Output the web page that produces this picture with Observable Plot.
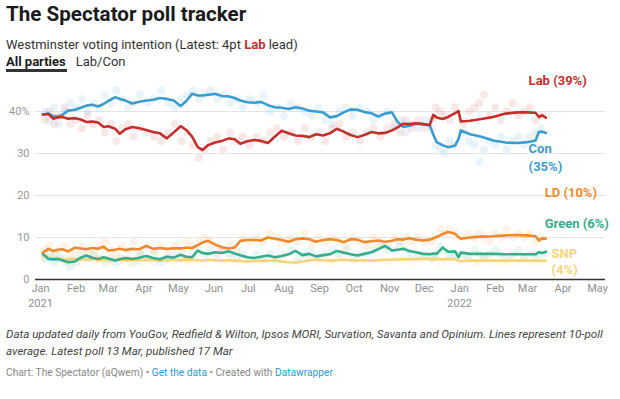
<!DOCTYPE html>
<html><head><meta charset="utf-8">
<script src="https://cdn.jsdelivr.net/npm/d3@7"></script>
<script src="https://cdn.jsdelivr.net/npm/@observablehq/plot@0.6"></script>
<style>
body{margin:0;background:#fff;font-family:Roboto,"Noto Sans",sans-serif;width:620px;height:399px;overflow:hidden;position:relative;color:#222}
.abs{position:absolute;white-space:nowrap}
#title{left:6px;top:2px;font-size:20.6px;line-height:24px;font-weight:700;color:#1a1a1a}
#sub{left:6px;top:36px;font-size:13px;line-height:18px;color:#333}
#sub b{color:#c3302b}
#tabs{left:6px;top:54px;font-size:13px;line-height:16px;color:#333}
#tabs b{color:#1a1a1a;margin-right:10px}
#uline{left:6px;top:69px;width:61px;height:3px;background:#333}
#chart{left:0;top:72px}
.note{left:6px;font-size:11.6px;line-height:17px;font-style:italic;color:#444}
#foot{left:6px;top:365px;font-size:10.2px;line-height:16px;color:#888}
#foot span.l{color:#2a9bd0}
</style></head>
<body>
<div class="abs" id="title">The Spectator poll tracker</div>
<div class="abs" id="sub">Westminster voting intention (Latest: 4pt <b>Lab</b> lead)</div>
<div class="abs" id="tabs"><b>All parties</b>Lab/Con</div>
<div class="abs" id="uline"></div>
<div class="abs" id="chart"></div>
<div class="abs note" style="top:326px">Data updated daily from YouGov, Redfield &amp; Wilton, Ipsos MORI, Survation, Savanta and Opinium. Lines represent 10-poll</div>
<div class="abs note" style="top:343px">average. Latest poll 13 Mar, published 17 Mar</div>
<div class="abs" id="foot">Chart: The Spectator (aQwem) • <span class="l">Get the data</span> • Created with <span class="l">Datawrapper</span></div>
<script>
// ---- 10-poll average lines ----
const lineDates = ["2021-01-03","2021-01-08","2021-01-12","2021-01-16","2021-01-20","2021-01-25","2021-01-31","2021-02-05","2021-02-10","2021-02-15",
"2021-02-20","2021-02-25","2021-03-01","2021-03-07","2021-03-11","2021-03-16","2021-03-22","2021-03-28","2021-04-03","2021-04-09",
"2021-04-15","2021-04-21","2021-04-27","2021-05-03","2021-05-08","2021-05-13","2021-05-18","2021-05-22","2021-05-27","2021-06-02",
"2021-06-08","2021-06-14","2021-06-19","2021-06-24","2021-06-30","2021-07-06","2021-07-12","2021-07-18","2021-07-24","2021-07-30",
"2021-08-05","2021-08-11","2021-08-17","2021-08-23","2021-08-29","2021-09-04","2021-09-10","2021-09-16","2021-09-22","2021-09-28",
"2021-10-04","2021-10-10","2021-10-16","2021-10-22","2021-10-28","2021-11-03","2021-11-08","2021-11-13","2021-11-18","2021-11-24",
"2021-11-30","2021-12-06","2021-12-09","2021-12-12","2021-12-17","2021-12-22","2021-12-28","2021-12-31","2022-01-02","2022-01-10",
"2022-01-20","2022-01-30","2022-02-10","2022-02-20","2022-03-01","2022-03-08","2022-03-11","2022-03-14","2022-03-17"];
const conLine = [39.3,39.5,38.9,38.8,39.2,40.2,40.4,40.9,41.4,41.6,41.2,41.8,42.5,43.4,43.0,42.6,41.9,42.3,42.6,42.8,
43.2,43.0,42.6,41.3,42.5,44.2,43.8,43.8,44.0,44.2,43.7,43.6,43.2,42.6,42.2,42.1,42.3,41.5,41.0,40.9,
40.6,41.0,40.7,40.2,40.0,39.8,38.6,38.9,39.8,40.5,40.4,39.9,39.6,38.8,39.5,39.8,37.5,36.3,36.6,37.1,
37.0,36.7,34.5,32.7,32.0,31.5,31.9,33.5,35.5,34.6,34.0,33.1,32.6,32.5,32.7,33.1,35.1,35.2,34.9];
const labLine = [39.3,39.4,38.3,38.6,38.7,38.3,38.4,38.1,37.5,37.6,37.4,36.3,36.5,35.9,34.7,35.8,36.3,36.0,35.6,35.1,
34.8,33.6,35.0,36.5,35.6,34.0,31.5,30.8,32.0,32.6,33.0,33.6,33.4,32.3,32.9,33.2,33.0,32.5,34.0,35.4,
34.8,34.3,34.2,33.9,34.6,34.3,34.8,35.9,35.2,34.4,33.9,34.4,35.1,34.8,34.9,35.5,36.2,37.1,37.0,37.2,
37.0,36.8,39.2,38.6,38.2,38.7,39.6,40.1,37.6,37.8,38.2,38.7,39.5,39.8,39.8,39.7,38.7,39.1,38.5];
const ldLine = [6.4,7.3,6.8,7.1,7.2,6.7,7.6,7.4,7.2,7.5,7.3,7.8,6.9,7.1,7.3,7.0,7.3,7.2,8.0,7.3,
7.5,7.3,7.4,7.4,7.6,7.5,8.2,8.8,9.2,8.3,7.7,7.4,7.6,9.2,9.4,9.4,9.3,10.0,9.7,9.4,
9.0,9.6,9.8,9.6,9.0,9.4,9.6,9.4,8.9,9.6,9.5,8.9,9.1,9.3,9.0,9.2,9.6,9.5,9.8,9.5,
9.3,9.5,9.8,10.1,10.8,11.3,10.9,10.1,9.7,10.0,10.2,10.3,10.5,10.6,10.5,10.3,9.3,9.8,9.7];
const greenLine = [6.1,4.9,4.8,4.9,4.6,4.1,4.3,5.2,5.7,5.2,4.9,5.3,5.0,4.5,4.8,5.1,4.9,5.2,5.6,5.1,
4.8,5.4,5.2,5.9,5.4,5.3,6.9,6.3,6.1,6.5,6.3,6.7,6.2,5.8,5.3,5.1,5.4,5.7,5.3,5.6,
6.0,6.8,5.8,6.1,5.5,5.8,6.0,6.8,6.4,6.0,5.7,6.1,6.5,7.2,8.0,6.9,7.1,7.3,6.8,6.5,
6.1,6.0,6.2,6.1,7.6,6.6,6.7,5.3,6.4,6.1,6.1,6.1,6.0,6.0,6.0,6.0,6.5,6.3,6.6];
const snpLine = [5.6,5.3,5.1,5.0,4.9,4.8,4.9,4.8,4.7,4.9,4.8,4.7,4.6,4.7,4.8,4.6,4.7,4.6,4.7,4.6,
4.5,4.6,4.7,4.6,4.8,4.7,4.6,4.5,4.7,4.6,4.5,4.6,4.5,4.4,4.3,4.4,4.5,4.4,4.6,4.3,
4.1,4.0,4.3,4.6,4.7,4.6,4.5,4.6,4.7,4.6,4.5,4.6,4.5,4.6,4.7,4.7,4.8,4.8,4.9,4.8,
4.9,4.9,4.8,4.9,4.8,4.9,4.8,4.5,4.4,4.5,4.5,4.5,4.5,4.5,4.5,4.5,4.5,4.4,4.5];

// ---- individual polls ----
const pollDates = ["2021-01-05","2021-01-09","2021-01-13","2021-01-17","2021-01-22","2021-01-27","2021-02-01","2021-02-06","2021-02-11","2021-02-16",
"2021-02-21","2021-02-26","2021-03-03","2021-03-08","2021-03-13","2021-03-18","2021-03-23","2021-03-29","2021-04-04","2021-04-10",
"2021-04-16","2021-04-22","2021-04-28","2021-05-04","2021-05-09","2021-05-14","2021-05-19","2021-05-24","2021-05-29","2021-06-04",
"2021-06-09","2021-06-15","2021-06-21","2021-06-26","2021-07-02","2021-07-08","2021-07-14","2021-07-20","2021-07-26","2021-08-01",
"2021-08-07","2021-08-13","2021-08-19","2021-08-25","2021-08-31","2021-09-06","2021-09-12","2021-09-18","2021-09-24","2021-09-30",
"2021-10-06","2021-10-12","2021-10-18","2021-10-24","2021-10-30","2021-11-05","2021-11-10","2021-11-15","2021-11-20","2021-11-26",
"2021-12-02","2021-12-08","2021-12-11","2021-12-15","2021-12-19","2021-12-23","2021-12-28","2022-01-04","2022-01-09","2022-01-14",
"2022-01-18","2022-01-22","2022-01-27","2022-02-01","2022-02-06","2022-02-11","2022-02-16","2022-02-21","2022-02-26","2022-03-03",
"2022-03-08","2022-03-13"];
const conPolls = [40,38,41,37,40,42,41,43,40,42,41,44,42,45,43,41,42,44,42,43,
45,42,41,43,44,45,43,44,45,43,44,42,43,41,43,42,44,40,41,39,
42,41,40,39,41,38,37,40,41,39,41,40,38,39,40,36,38,35,37,36,
38,36,32,31,30,33,32,35,33,32,28,31,33,32,34,31,33,34,32,34,
35,36];
const labPolls = [38,40,37,39,41,37,38,36,39,37,38,35,37,33,36,37,34,36,35,34,
33,35,37,33,35,32,29,31,33,34,31,35,33,34,32,34,33,35,36,34,
35,33,36,34,35,33,36,37,34,35,33,35,36,34,36,37,35,38,36,38,
36,38,41,40,39,38,41,37,40,41,42,44,39,41,38,40,42,39,40,41,
38,39];
const ldPolls = [7,8,6,7,8,6,7,8,7,6,8,9,7,6,8,7,9,6,8,7,
8,6,8,7,9,8,9,10,9,8,7,8,7,10,9,10,9,11,10,9,
10,9,11,8,10,9,10,9,8,10,9,8,10,9,8,10,9,10,9,10,
9,9,10,12,11,12,11,10,11,10,11,10,9,11,10,12,10,11,10,11,
9,10];
const greenPolls = [5,6,4,5,4,3,4,6,5,6,5,4,5,4,5,5,4,6,5,6,
4,5,6,5,5,6,7,6,7,6,7,6,5,6,5,6,5,6,5,6,
7,5,6,6,5,6,7,6,7,5,6,6,7,8,7,7,8,7,6,6,
6,5,6,8,7,6,6,6,5,7,6,5,6,7,6,5,6,7,5,6,
6,6];
const snpPolls = [5,5,6,5,5,4,5,4,5,4,5,5,4,5,5,4,5,4,5,4,
5,5,4,5,4,5,5,4,5,5,4,5,4,5,4,5,4,5,4,4,
4,4,5,5,4,5,4,5,5,4,5,4,5,5,4,5,5,5,4,5,
5,5,5,4,5,4,5,4,5,4,4,5,4,5,4,4,5,4,5,4,
5,4];

// ---- parties, colours, tick labels ----
const parties = ["SNP","Green","LD","Con","Lab"];
const partyColors = ["#f5d57c","#36ad8c","#ee8a2b","#3b9dcf","#c3302b"];
const lineSeries = {SNP: snpLine, Green: greenLine, LD: ldLine, Con: conLine, Lab: labLine};
const pollSeries = {SNP: snpPolls, Green: greenPolls, LD: ldPolls, Con: conPolls, Lab: labPolls};
const monthTicks = ["2021-01-01","2021-02-01","2021-03-01","2021-04-01","2021-05-01","2021-06-01","2021-07-01","2021-08-01",
"2021-09-01","2021-10-01","2021-11-01","2021-12-01","2022-01-01","2022-02-01","2022-03-01","2022-04-01","2022-05-01"];
const monthLabels = ["Jan","Feb","Mar","Apr","May","Jun","Jul","Aug","Sep","Oct","Nov","Dec"];
const yearTicks = ["2021-01-01","2022-01-01"];
const yearLabels = ["2021","2022"];
const yTicks = [0,10,20,30,40];
const endLabels = [
  {party:"Lab", date:"2022-03-02", value:47.4, text:"Lab (39%)"},
  {party:"Con", date:"2022-03-02", value:31.0, text:"Con"},
  {party:"Con", date:"2022-03-02", value:26.9, text:"(35%)"},
  {party:"LD", date:"2022-03-16", value:20.7, text:"LD (10%)"},
  {party:"Green", date:"2022-03-16", value:13.3, text:"Green (6%)"},
  {party:"SNP", date:"2022-03-22", value:6.2, text:"SNP"},
  {party:"SNP", date:"2022-03-22", value:2.4, text:"(4%)"}
];

const P = s => new Date(s + "T00:00:00Z");
const lines = parties.flatMap(p => lineDates.map((d, i) => ({party: p, date: P(d), value: lineSeries[p][i]})));
const polls = parties.flatMap(p => pollDates.map((d, i) => ({party: p, date: P(d), value: pollSeries[p][i]})));
const labels = endLabels.map(l => ({...l, date: P(l.date)}));
const colorOf = Object.fromEntries(parties.map((p, i) => [p, partyColors[i]]));

const chart = Plot.plot({
  width: 620, height: 245,
  marginLeft: 35, marginRight: 15, marginTop: 18, marginBottom: 38,
  style: {fontFamily: "Roboto, sans-serif", fontSize: "11px", overflow: "visible", background: "transparent"},
  x: {type: "utc", domain: [P("2021-01-01"), P("2022-05-01")], insetLeft: 5, insetRight: 8},
  y: {domain: [0, 45]},
  color: {domain: parties, range: partyColors},
  marks: [
    Plot.ruleY([10,20,30,40], {stroke: "#e4e4e4", strokeWidth: 1}),
    Plot.dot(polls, {x: "date", y: "value", fill: "party", r: 4, fillOpacity: 0.11}),
    Plot.line(lines, {x: "date", y: "value", stroke: "party", z: "party", strokeWidth: 2.6, strokeLinejoin: "round"}),
    Plot.ruleY([0], {stroke: "#333", strokeWidth: 1.5}),
    Plot.axisY(yTicks, {tickSize: 0, tickPadding: 6, fontSize: 11, color: "#999", tickFormat: d => d === 40 ? "40%" : String(d), label: null}),
    Plot.axisX(monthTicks.map(P), {tickSize: 0, tickPadding: 5, fontSize: 11, color: "#8f8f8f", tickFormat: d => monthLabels[d.getUTCMonth()], label: null}),
    Plot.axisX(yearTicks.map(P), {tickSize: 0, tickPadding: 20, fontSize: 11, color: "#8f8f8f", tickFormat: d => yearLabels[yearTicks.indexOf(d.toISOString().slice(0,10))], label: null}),
    Plot.text(labels, {x: "date", y: "value", text: "text", fill: d => colorOf[d.party], textAnchor: "start", fontSize: 13, fontWeight: 700})
  ]
});
document.getElementById("chart").appendChild(chart);
</script>
</body></html>
